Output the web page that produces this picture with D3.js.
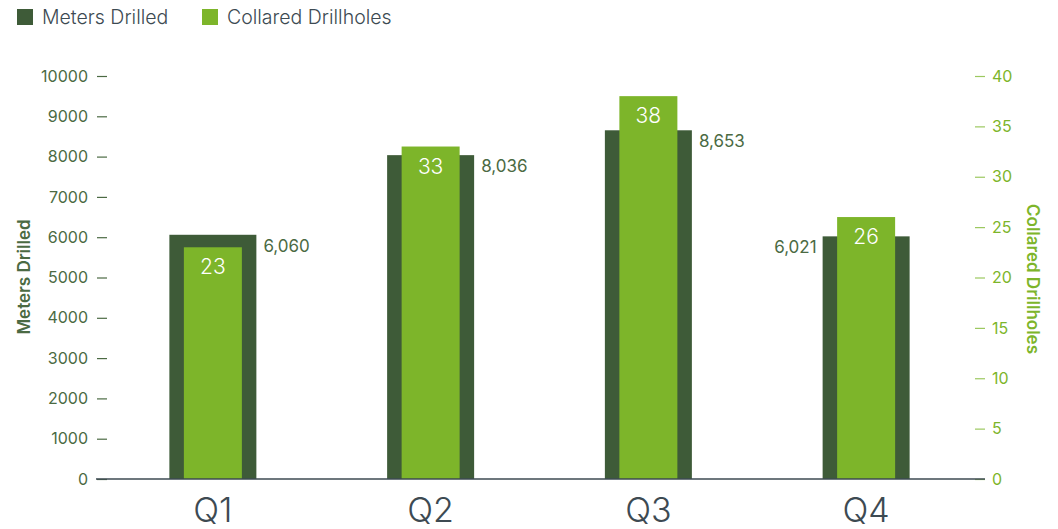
<!DOCTYPE html>
<html>
<head>
<meta charset="utf-8">
<script src="https://cdn.jsdelivr.net/npm/d3@7"></script>
<style>
  body { margin: 0; background: #fff; }
  text { font-family: Inter, "Noto Sans", sans-serif; }
</style>
</head>
<body>
<div id="chart"></div>
<script>
// --- Data ---
const quarters = ["Q1", "Q2", "Q3", "Q4"];
const metersDrilled = [6060, 8036, 8653, 6021];
const collaredDrillholes = [23, 33, 38, 26];
const metersTicks = [0, 1000, 2000, 3000, 4000, 5000, 6000, 7000, 8000, 9000, 10000];
const holesTicks = [0, 5, 10, 15, 20, 25, 30, 35, 40];

// --- Setup ---
const width = 1058, height = 529;
const darkGreen = "#3e5b38";
const lightGreen = "#7db52a";
const axisGray = "#3d4a52";
const labelGreen = "#4b6a43";

const svg = d3.select("#chart").append("svg")
    .attr("width", width)
    .attr("height", height);

const x = d3.scaleBand().domain(quarters).range([104, 975]);
const yLeft = d3.scaleLinear().domain([0, 10000]).range([479, 76]);
const yRight = d3.scaleLinear().domain([0, 40]).range([479, 76]);

// Left axis
const leftAxis = svg.append("g")
    .attr("transform", "translate(107,0)")
    .call(d3.axisLeft(yLeft).tickValues(metersTicks).tickSize(10).tickPadding(9).tickFormat(d3.format("d")));
leftAxis.select(".domain").remove();
leftAxis.selectAll("line").attr("stroke", labelGreen).attr("stroke-width", 1.2);
leftAxis.selectAll("text").attr("fill", labelGreen).style("font-size", "16px");

// Right axis
const rightAxis = svg.append("g")
    .attr("transform", "translate(975,0)")
    .call(d3.axisRight(yRight).tickValues(holesTicks).tickSize(10).tickPadding(7));
rightAxis.select(".domain").remove();
rightAxis.selectAll("line").attr("stroke", "#9cc860").attr("stroke-width", 1.2);
rightAxis.selectAll("text").attr("fill", lightGreen).style("font-size", "16px");

// Axis titles
svg.append("text")
    .attr("transform", "translate(30,277) rotate(-90)")
    .attr("text-anchor", "middle")
    .attr("fill", labelGreen)
    .style("font-size", "17px").style("font-weight", 600)
    .text("Meters Drilled");

svg.append("text")
    .attr("transform", "translate(1027,279) rotate(90)")
    .attr("text-anchor", "middle")
    .attr("fill", lightGreen)
    .style("font-size", "17px").style("font-weight", 600)
    .text("Collared Drillholes");

// Bars
const darkW = 87, lightW = 58;
const groups = svg.append("g").selectAll("g")
    .data(quarters)
    .join("g");

groups.append("rect")
    .attr("x", (d) => x(d) + x.bandwidth() / 2 - darkW / 2)
    .attr("y", (d, i) => yLeft(metersDrilled[i]))
    .attr("width", darkW)
    .attr("height", (d, i) => yLeft(0) - yLeft(metersDrilled[i]))
    .attr("fill", darkGreen);

groups.append("rect")
    .attr("x", (d) => x(d) + x.bandwidth() / 2 - lightW / 2)
    .attr("y", (d, i) => yRight(collaredDrillholes[i]))
    .attr("width", lightW)
    .attr("height", (d, i) => yRight(0) - yRight(collaredDrillholes[i]))
    .attr("fill", lightGreen);

// Values inside light bars
groups.append("text")
    .attr("x", (d) => x(d) + x.bandwidth() / 2)
    .attr("y", (d, i) => yRight(collaredDrillholes[i]) + 27)
    .attr("text-anchor", "middle")
    .attr("fill", "#fff")
    .style("font-size", "21px").style("font-weight", 300)
    .text((d, i) => collaredDrillholes[i]);

// Meters labels (left of bar for last quarter)
const fmt = d3.format(",");
groups.append("text")
    .attr("x", (d, i) => i === 3
        ? x(d) + x.bandwidth() / 2 - darkW / 2 - 6
        : x(d) + x.bandwidth() / 2 + darkW / 2 + 7)
    .attr("y", (d, i) => yLeft(metersDrilled[i]) + 17)
    .attr("text-anchor", (d, i) => i === 3 ? "end" : "start")
    .attr("fill", labelGreen)
    .style("font-size", "17px")
    .text((d, i) => fmt(metersDrilled[i]));

// Baseline
svg.append("line")
    .attr("x1", 96).attr("x2", 985)
    .attr("y1", yLeft(0)).attr("y2", yLeft(0))
    .attr("stroke", axisGray).attr("stroke-width", 1.5);

// Category labels
svg.append("g").selectAll("text")
    .data(quarters)
    .join("text")
    .attr("x", (d) => x(d) + x.bandwidth() / 2)
    .attr("y", 522)
    .attr("text-anchor", "middle")
    .attr("fill", axisGray)
    .style("font-size", "34px").style("font-weight", 300)
    .text((d) => d);

// Legend
const legendItems = [
    { label: "Meters Drilled", color: darkGreen, x: 17 },
    { label: "Collared Drillholes", color: lightGreen, x: 202 }
];
const legend = svg.append("g").selectAll("g")
    .data(legendItems)
    .join("g")
    .attr("transform", (d) => `translate(${d.x},9)`);
legend.append("rect")
    .attr("width", 16).attr("height", 16)
    .attr("fill", (d) => d.color);
legend.append("text")
    .attr("x", 25).attr("y", 15)
    .attr("fill", axisGray)
    .style("font-size", "19.5px").style("font-weight", 300)
    .text((d) => d.label);
</script>
</body>
</html>
